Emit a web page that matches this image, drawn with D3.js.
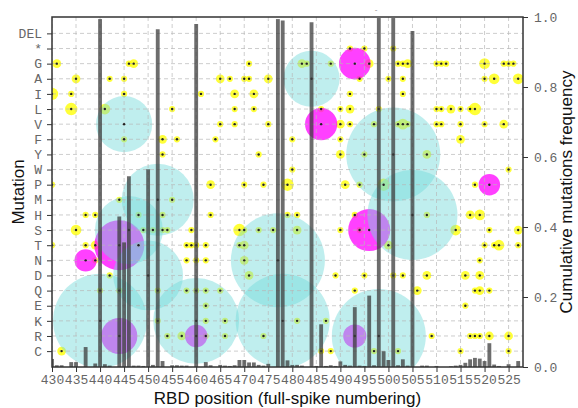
<!DOCTYPE html>
<html>
<head>
<meta charset="utf-8">
<script src="https://cdn.jsdelivr.net/npm/d3@7"></script>
<style>
  body { margin: 0; background: #fff; }
  .tick text { font-family: "Liberation Mono", monospace; font-size: 13px; fill: #666; }
  .tick line { stroke: #333; }
  .axis-label { font-family: "Liberation Sans", Arial, sans-serif; font-size: 17px; fill: #111; }
</style>
</head>
<body>
<div id="container"></div>
<script>
const mutations = ["DEL", "*", "G", "A", "I", "L", "V", "F", "Y", "W", "P", "M", "H", "S", "T", "N", "D", "Q", "E", "K", "R", "C"];
const xTicks = d3.range(430, 526, 5);
const freqTicks = [0, 0.2, 0.4, 0.6, 0.8, 1.0];

// cumulative mutation frequency per residue (right axis)
const barResidue = [430, 431, 432, 434, 435, 437, 439, 440, 441, 442, 444, 445, 446, 447, 448, 449, 450, 451, 452, 453,
  455, 456, 457, 458, 460, 462, 463, 465, 466, 467, 468, 469, 470, 471, 472, 473, 474, 475, 477, 478, 479, 480, 481, 482,
  484, 485, 486, 487, 488, 489, 490, 491, 492, 493, 494, 495, 496, 497, 498, 499, 500, 501, 502, 503, 504, 505, 507, 508,
  510, 513, 514, 515, 516, 517, 518, 519, 520, 521, 522, 523, 525, 527];
const barFreq = [0.023, 0.005, 0.005, 0.014, 0.014, 0.057, 0.01, 0.994, 0.008, 0.004, 0.43, 0.356, 0.545, 0.004, 0.004, 0.003, 0.565, 0.006, 0.965, 0.017,
  0.005, 0.005, 0.004, 0.004, 0.98, 0.014, 0.005, 0.006, 0.004, 0.003, 0.005, 0.02, 0.02, 0.013, 0.013, 0.006, 0.004, 0.009, 0.994, 0.99, 0.019, 0.006, 0.006, 0.004,
  0.985, 0.003, 0.122, 0.003, 0.005, 0.003, 0.016, 0.006, 0.004, 0.171, 0.004, 0.003, 0.204, 0.005, 0.997, 0.045, 0.02, 0.997, 0.005, 0.022, 0.004, 0.96, 0.004, 0.004,
  0.003, 0.002, 0.004, 0.006, 0.012, 0.022, 0.026, 0.024, 0.017, 0.068, 0.007, 0.003, 0.008, 0.017];

// observed mutations: [residue, mutation, weight]
const lowFreq = [
  [492, "*", 1], [495, "*", 1], [501, "*", 1],
  [431, "G", 2], [446, "G", 1], [447, "G", 2], [471, "G", 1], [482, "G", 2], [483, "G", 1], [488, "G", 1], [496, "G", 2], [502, "G", 1],
  [503, "G", 1], [504, "G", 2], [510, "G", 1], [511, "G", 1], [512, "G", 1], [520, "G", 3], [524, "G", 1], [525, "G", 1], [526, "G", 1],
  [435, "A", 2], [442, "A", 1], [445, "A", 1], [465, "A", 2], [467, "A", 1], [470, "A", 1], [471, "A", 1], [475, "A", 2], [494, "A", 1],
  [500, "A", 1], [503, "A", 1], [520, "A", 1], [522, "A", 3], [527, "A", 3],
  [430, "I", 4], [434, "I", 1], [445, "I", 1], [461, "I", 1], [468, "I", 2], [472, "I", 2], [492, "I", 1], [503, "I", 1],
  [434, "L", 4], [441, "L", 3], [455, "L", 1], [468, "L", 1], [472, "L", 1], [486, "L", 1], [490, "L", 1], [492, "L", 2], [498, "L", 1],
  [510, "L", 1], [511, "L", 1], [513, "L", 2], [515, "L", 1], [517, "L", 1], [518, "L", 4],
  [465, "V", 1], [468, "V", 1], [475, "V", 1], [490, "V", 2], [492, "V", 1], [497, "V", 1], [502, "V", 1], [503, "V", 3], [504, "V", 1],
  [510, "V", 1], [511, "V", 1], [515, "V", 1], [520, "V", 1], [524, "V", 2],
  [445, "F", 1], [453, "F", 2], [456, "F", 1], [464, "F", 1], [480, "F", 1], [490, "F", 1], [515, "F", 2],
  [453, "Y", 1], [473, "Y", 1], [490, "Y", 2], [495, "Y", 1], [508, "Y", 2],
  [480, "W", 1], [525, "W", 1],
  [430, "P", 1], [463, "P", 2], [470, "P", 1], [474, "P", 1], [479, "P", 4], [491, "P", 2], [494, "P", 1], [499, "P", 4], [518, "P", 1],
  [444, "M", 1], [455, "M", 1],
  [437, "H", 1], [439, "H", 1], [448, "H", 1], [453, "H", 1], [463, "H", 1], [479, "H", 1], [481, "H", 1], [493, "H", 1], [508, "H", 1],
  [517, "H", 2], [519, "H", 3],
  [435, "S", 3], [449, "S", 1], [451, "S", 1], [453, "S", 1], [454, "S", 1], [459, "S", 1], [469, "S", 4], [470, "S", 1], [473, "S", 1],
  [476, "S", 1], [481, "S", 2], [490, "S", 1], [494, "S", 1], [514, "S", 3], [521, "S", 1], [527, "S", 2],
  [430, "T", 1], [437, "T", 1], [439, "T", 2], [448, "T", 1], [458, "T", 1], [459, "T", 1], [460, "T", 1], [462, "T", 1], [469, "T", 1],
  [470, "T", 2], [500, "T", 2], [520, "T", 1], [522, "T", 1], [523, "T", 3], [527, "T", 1],
  [439, "N", 1], [458, "N", 1], [460, "N", 1], [462, "N", 1], [470, "N", 2], [519, "N", 1],
  [442, "D", 1], [471, "D", 2], [489, "D", 1], [495, "D", 1], [501, "D", 1], [503, "D", 1], [508, "D", 2], [516, "D", 2], [519, "D", 2],
  [440, "Q", 1], [444, "Q", 1], [452, "Q", 1], [458, "Q", 1], [460, "Q", 1], [462, "Q", 1], [465, "Q", 1], [493, "Q", 1], [506, "Q", 2],
  [518, "Q", 1], [519, "Q", 2], [521, "Q", 1],
  [462, "E", 1], [516, "E", 1],
  [452, "K", 1], [462, "K", 1], [466, "K", 1], [481, "K", 1], [487, "K", 1],
  [454, "R", 1], [457, "R", 2], [462, "R", 1], [466, "R", 1], [474, "R", 1], [509, "R", 1], [517, "R", 1], [518, "R", 1], [519, "R", 1],
  [521, "R", 2], [525, "R", 2],
  [432, "C", 2], [486, "C", 1], [488, "C", 1], [497, "C", 1], [502, "C", 1], [515, "C", 1], [525, "C", 1]
];
const midFreq = [
  [493, "G", 26], [486, "V", 27], [496, "S", 46], [444, "T", 65], [437, "N", 13],
  [444, "R", 34], [460, "R", 13], [493, "R", 14], [521, "P", 12]
];
const highFreq = [
  [445, "V", 82], [484, "A", 82], [452, "M", 135], [501, "Y", 230], [505, "H", 211], [446, "S", 120],
  [477, "N", 230], [450, "D", 127], [440, "K", 230], [460, "K", 192], [478, "K", 230], [498, "R", 230]
];

const width = 578;
const height = 408;
const margin = { top: 17, right: 55, bottom: 41, left: 52 };
const plotRight = width - margin.right;
const plotBottom = height - margin.bottom;

const svg = d3.select("#container").append("svg")
  .attr("width", width)
  .attr("height", height);

const x = d3.scaleLinear()
  .domain([430, 528])
  .range([margin.left, plotRight]);

const y = d3.scalePoint()
  .domain(mutations)
  .range([margin.top + 0.5, plotBottom])
  .padding(1.05);

const yFreq = d3.scaleLinear()
  .domain([0, 1])
  .range([plotBottom, margin.top]);

const r = d3.scaleSqrt()
  .domain([0, 100])
  .range([0, 3.1 * 10]);

svg.append("defs").append("clipPath")
  .attr("id", "plot-clip")
  .append("rect")
  .attr("x", margin.left).attr("y", margin.top)
  .attr("width", plotRight - margin.left)
  .attr("height", plotBottom - margin.top);

const plot = svg.append("g").attr("clip-path", "url(#plot-clip)");

// bubbles: yellow -> magenta -> cyan
const layers = [
  { data: lowFreq, fill: "#ffff00", opacity: 0.78 },
  { data: midFreq, fill: "#ff00ff", opacity: 0.75 },
  { data: highFreq, fill: "#72dada", opacity: 0.45 }
];
layers.forEach(layer => {
  plot.append("g").selectAll("circle")
    .data(layer.data)
    .join("circle")
    .attr("cx", d => x(d[0]))
    .attr("cy", d => y(d[1]))
    .attr("r", d => r(d[2]))
    .attr("fill", layer.fill)
    .attr("fill-opacity", layer.opacity);
});

// grid
plot.append("g").selectAll("line")
  .data(mutations)
  .join("line")
  .attr("x1", margin.left).attr("x2", plotRight)
  .attr("y1", d => y(d)).attr("y2", d => y(d))
  .attr("stroke", "#b8b8b8")
  .attr("stroke-opacity", 0.7)
  .attr("stroke-dasharray", "4,3");

plot.append("g").selectAll("line")
  .data(xTicks)
  .join("line")
  .attr("x1", d => x(d)).attr("x2", d => x(d))
  .attr("y1", margin.top).attr("y2", plotBottom)
  .attr("stroke", "#b8b8b8")
  .attr("stroke-opacity", 0.7)
  .attr("stroke-dasharray", "4,3");

// center markers
plot.append("g").selectAll("circle")
  .data(lowFreq.concat(midFreq, highFreq))
  .join("circle")
  .attr("cx", d => x(d[0]))
  .attr("cy", d => y(d[1]))
  .attr("r", 1.2)
  .attr("fill", "#222");

// bars on twin axis
const barW = x(430.8) - x(430);
plot.append("g").selectAll("rect")
  .data(barResidue)
  .join("rect")
  .attr("x", d => x(d) - barW / 2)
  .attr("y", (d, i) => yFreq(barFreq[i]))
  .attr("width", barW)
  .attr("height", (d, i) => plotBottom - yFreq(barFreq[i]))
  .attr("fill", "#3c3c3c")
  .attr("fill-opacity", 0.75);

// axes
svg.append("g")
  .attr("transform", `translate(${margin.left},0)`)
  .call(d3.axisLeft(y).tickSize(5).tickPadding(5))
  .call(g => g.select(".domain").remove());

svg.append("g")
  .attr("transform", `translate(0,${plotBottom})`)
  .call(d3.axisBottom(x).tickValues(xTicks).tickSize(5).tickPadding(3).tickFormat(d3.format("d")))
  .call(g => g.select(".domain").remove());

svg.append("g")
  .attr("transform", `translate(${plotRight},0)`)
  .call(d3.axisRight(yFreq).tickValues(freqTicks).tickSize(5).tickPadding(6).tickFormat(d3.format(".1f")))
  .call(g => g.select(".domain").remove());

svg.append("rect")
  .attr("x", margin.left).attr("y", margin.top)
  .attr("width", plotRight - margin.left)
  .attr("height", plotBottom - margin.top)
  .attr("fill", "none")
  .attr("stroke", "#333")
  .attr("stroke-width", 1.5);

// axis labels
svg.append("text")
  .attr("class", "axis-label")
  .attr("x", (margin.left + plotRight) / 2)
  .attr("y", height - 4)
  .attr("text-anchor", "middle")
  .text("RBD position (full-spike numbering)");

svg.append("text")
  .attr("class", "axis-label")
  .attr("transform", `translate(24,${(margin.top + plotBottom) / 2}) rotate(-90)`)
  .attr("text-anchor", "middle")
  .text("Mutation");

svg.append("text")
  .attr("class", "axis-label")
  .attr("transform", `translate(572,${(margin.top + plotBottom) / 2}) rotate(-90)`)
  .attr("text-anchor", "middle")
  .text("Cumulative mutations frequency");

svg.append("text")
  .attr("x", 376).attr("y", 12)
  .attr("text-anchor", "middle")
  .style("font-family", "Liberation Sans, sans-serif")
  .style("font-size", "8px")
  .attr("fill", "#888")
  .text("-");
</script>
</body>
</html>
